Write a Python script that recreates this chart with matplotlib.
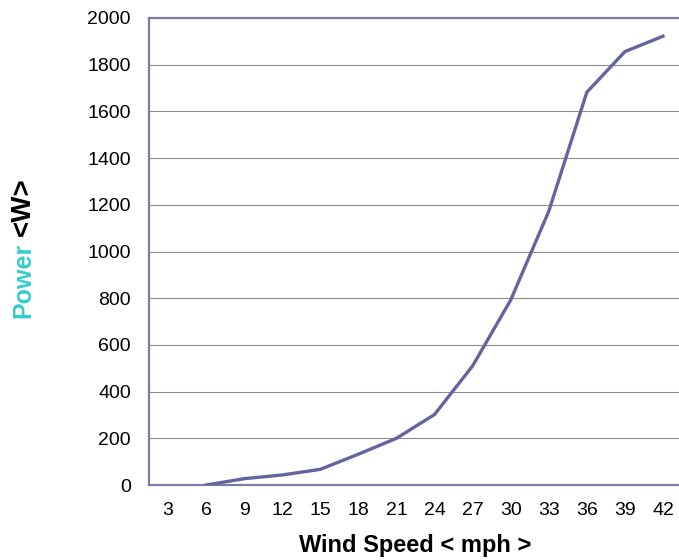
"""
Wind turbine power curve
"""

from matplotlib import pyplot as plt

plt.rcParams['font.family'] = ['Liberation Sans', 'DejaVu Sans']

wind_speed = ['3', '6', '9', '12', '15', '18', '21', '24', '27', '30', '33', '36', '39', '42']
# no reading at 3 mph, the curve starts at 6
power = [None, 0, 27, 43, 67, 132, 200, 302, 510, 792, 1172, 1682, 1856, 1922]
y_ticks = list(range(0, 2001, 200))

LINE = '#64649f'
FRAME = '#7b7ba6'
CYAN = '#33cccc'


def main():
    fig = plt.figure(figsize=(6.79, 5.6), dpi=100)
    # plot area runs a little past the right edge, like the original
    ax = fig.add_axes([149 / 679, 75 / 560, 533 / 679, 467 / 560])

    xs = [i for i, p in enumerate(power) if p is not None]
    ys = [p for p in power if p is not None]
    ax.plot(xs, ys, color=LINE, lw=2.4, solid_joinstyle='miter', zorder=3)

    ax.set_xlim(-0.5, len(wind_speed) - 0.5)
    ax.set_ylim(0, 2000)
    ax.set_xticks(range(len(wind_speed)))
    ax.set_xticklabels(wind_speed)
    ax.set_yticks(y_ticks)
    ax.tick_params(axis='both', length=0, labelsize=14)
    ax.tick_params(axis='x', pad=12)
    ax.tick_params(axis='y', pad=13)

    ax.yaxis.grid(True, color='#8c8c8c', lw=0.8)
    ax.set_axisbelow(True)
    for s in ax.spines.values():
        s.set_color(FRAME)
        s.set_linewidth(1.6)

    fig.text(415.5 / 679, 1 - 552 / 560, 'Wind Speed < mph >', ha='center', va='baseline',
             fontsize=17, fontweight='bold')

    # y label in two colours
    fig.text(23 / 679, 1 - 318 / 560, 'Power', rotation=90, ha='center', va='bottom',
             fontsize=18, fontweight='bold', color=CYAN)
    fig.text(23 / 679, 1 - 236 / 560, '<W>', rotation=90, ha='center', va='bottom',
             fontsize=20, fontweight='bold', color='black')

    fig.savefig('out.png', dpi=100)


if __name__ == '__main__':
    main()
